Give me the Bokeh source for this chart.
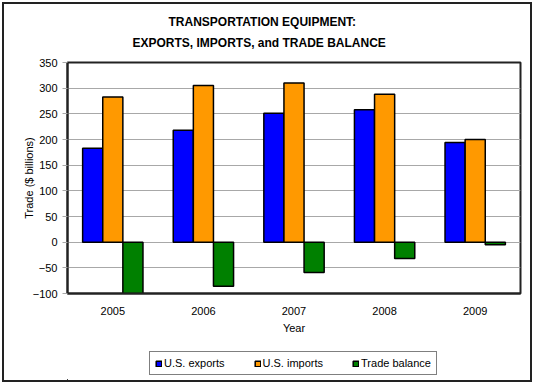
from bokeh.plotting import figure
from bokeh.layouts import column
from bokeh.models import ColumnDataSource, Legend, LegendItem, FixedTicker, Title
from bokeh.transform import dodge
from bokeh.embed import file_html
from bokeh.resources import INLINE

years = ["2005", "2006", "2007", "2008", "2009"]
exports = [183, 218, 251, 258, 194]
imports = [283, 305, 310, 288, 200]
balance = [-100, -86, -59, -32, -5]
series_names = ["U.S. exports", "U.S. imports", "Trade balance"]
y_ticks = [-100, -50, 0, 50, 100, 150, 200, 250, 300, 350]
cols = ["#0000FF", "#FF9900", "#008000"]

src = ColumnDataSource(dict(year=years, exp=exports, imp=imports, bal=balance))

FONT = "Liberation Sans"
p = figure(frame_width=453, frame_height=231, x_range=years, y_range=(-100, 350),
           output_backend="svg", toolbar_location=None,
           min_border_left=63, min_border_right=10, min_border_top=58, min_border_bottom=50)

p.title = None
t0 = Title(text=" ", text_font=FONT, text_font_size="6px", standoff=0)
t2 = Title(text="EXPORTS, IMPORTS, and TRADE BALANCE", align="left", offset=65, text_font=FONT,
           text_font_size="12px", text_font_style="bold", text_color="black", standoff=10)
t1 = Title(text="TRANSPORTATION EQUIPMENT:", align="left", offset=101, text_font=FONT,
           text_font_size="12px", text_font_style="bold", text_color="black", standoff=0)
p.add_layout(t0, "above")
p.add_layout(t2, "above")
p.add_layout(t1, "above")

w = 0.222
p.vbar(x=dodge("year", -w, range=p.x_range), top="exp", bottom=0, width=w, source=src,
       fill_color=cols[0], line_color="black", line_width=1.5)
p.vbar(x=dodge("year", 0, range=p.x_range), top="imp", bottom=0, width=w, source=src,
       fill_color=cols[1], line_color="black", line_width=1.5)
p.vbar(x=dodge("year", w, range=p.x_range), top="bal", bottom=0, width=w, source=src,
       fill_color=cols[2], line_color="black", line_width=1.5)

p.yaxis.ticker = FixedTicker(ticks=y_ticks)
p.xgrid.grid_line_color = None
p.ygrid.grid_line_color = "#a8a8a8"
p.ygrid.grid_line_width = 1.2
p.outline_line_color = "#222"
p.outline_line_width = 2

for ax in (p.xaxis[0], p.yaxis[0]):
    ax.axis_line_color = "#222"
    ax.axis_line_width = 2
    ax.major_label_text_font = FONT
    ax.major_label_text_font_size = "11px"
    ax.major_label_text_color = "black"
    ax.axis_label_text_font = FONT
    ax.axis_label_text_font_size = "11px"
    ax.axis_label_text_font_style = "normal"
    ax.axis_label_text_color = "black"
    ax.minor_tick_line_color = None

p.yaxis.major_tick_line_color = "#a8a8a8"
p.yaxis.major_tick_out = 5
p.yaxis.major_tick_in = 0
p.yaxis.axis_label = "Trade ($ billions)"
p.yaxis.axis_label_standoff = -5
p.xaxis.major_tick_line_color = None
p.xaxis.axis_label = "Year"
p.xaxis.major_label_standoff = 7
p.xaxis.axis_label_standoff = 4

# legend strip below the chart (its swatch renderers sit far outside the strip's ranges)
p2 = figure(width=526, height=37, x_range=(1000, 1001), y_range=(1000, 1001),
            output_backend="svg", toolbar_location=None,
            x_axis_type=None, y_axis_type=None, min_border=0)
p2.outline_line_color = None
p2.xgrid.grid_line_color = None
p2.ygrid.grid_line_color = None
lr = [p2.vbar(x="bal", top="bal", width=0.001, source=src, fill_color=c,
              line_color="black", line_width=1.5) for c in cols]

legend = Legend(items=[LegendItem(label=n, renderers=[r]) for n, r in zip(series_names, lr)],
                orientation="horizontal", location=(82, 5),
                label_text_font=FONT, label_text_font_size="11px", label_text_color="black",
                glyph_width=7, glyph_height=7, label_standoff=2, spacing=29,
                padding=5, margin=0, label_height=9,
                border_line_color="black", border_line_width=1.5,
                background_fill_color="white", background_fill_alpha=1)
p2.add_layout(legend, "center")

layout = column(p, p2, spacing=0,
                styles={"border": "2px solid #222", "margin-left": "2px", "margin-top": "2px"})
open("out.html", "w").write(file_html(layout, INLINE))
